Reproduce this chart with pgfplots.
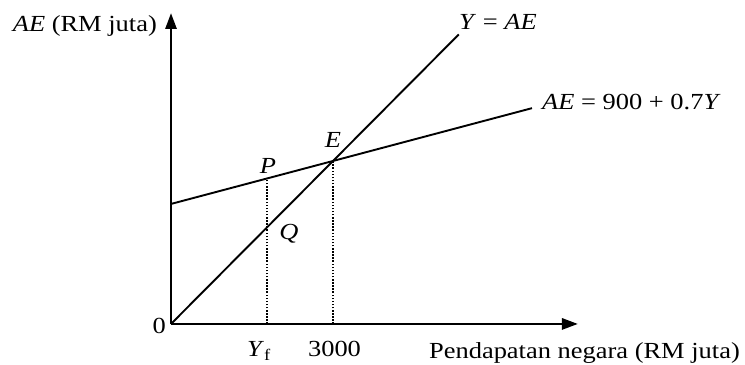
\documentclass[border=0pt]{standalone}
\usepackage{fontspec}
\setmainfont{Liberation Serif}[FakeStretch=1.15]
\usepackage{pgfplots}
\pgfplotsset{compat=1.18}
\usetikzlibrary{arrows.meta}

\begin{document}
\fontsize{23bp}{27bp}\selectfont
\begin{tikzpicture}
\begin{axis}[
    x=0.054bp, y=0.05433bp,
    xmin=0, xmax=7537,
    ymin=0, ymax=5724,
    enlargelimits=false,
    axis lines=left,
    axis line style={line width=2.8bp, -{Triangle[length=16bp,width=11bp]}},
    xtick=\empty, ytick=\empty,
    clip=false,
  ]
  % AE = 900 + 0.7Y (drawn schematically)
  \addplot[black, line width=1.9bp] coordinates {(0,2209) (3000,3000) (6685,3972)};
  % 45-degree line Y = AE
  \addplot[black, line width=1.9bp] coordinates {(0,0) (5330,5330)};
  % dotted guides
  \addplot[black, line width=1.5bp, dash pattern=on 1.5bp off 1.6bp] coordinates {(1780,0) (1780,2678)};
  \addplot[black, line width=1.5bp, dash pattern=on 1.5bp off 1.6bp] coordinates {(3000,0) (3000,3000)};

  \node[anchor=base east, inner sep=0pt] at (axis cs:-259,5374) {\textit{AE} (RM juta)};
  \node[anchor=base west, inner sep=0pt] at (axis cs:5333,5411) {\textit{Y} = \textit{AE}};
  \node[anchor=base west, inner sep=0pt] at (axis cs:6870,3939) {\textit{AE} = 900 + 0.7\textit{Y}};
  \node[inner sep=0pt] at (axis cs:3000,3387) {\textit{E}};
  \node[inner sep=0pt] at (axis cs:1796,2908) {\textit{P}};
  \node[inner sep=0pt] at (axis cs:2185,1657) {\textit{Q}};
  \node[anchor=east, inner sep=0pt] at (axis cs:-93,-37) {0};
  \node[anchor=base, inner sep=0pt] at (axis cs:1630,-607) {\textit{Y}\textsubscript{f}};
  \node[anchor=base, inner sep=0pt] at (axis cs:3028,-607) {3000};
  \node[anchor=base east, inner sep=0pt] at (axis cs:10537,-644) {Pendapatan negara (RM juta)};

  \path (axis cs:-3167,-755) rectangle (axis cs:10630,5963);
\end{axis}
\end{tikzpicture}
\end{document}
